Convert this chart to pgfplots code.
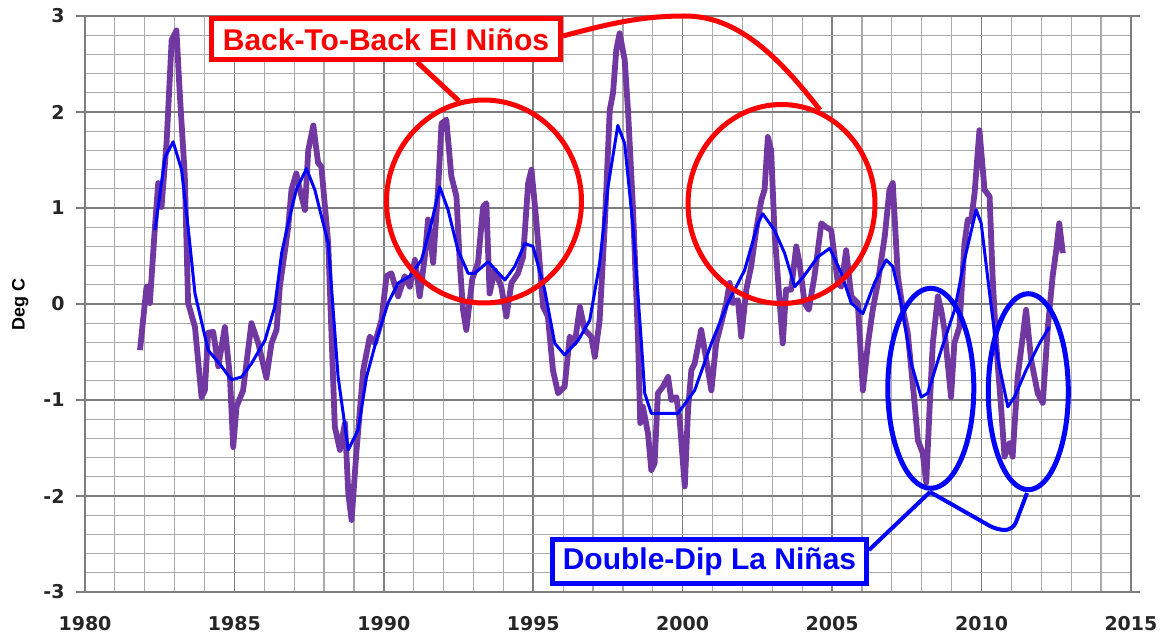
\documentclass[border=0pt]{standalone}
\usepackage{fontspec}
\setmainfont{Liberation Sans}
\newfontfamily\tickfont{DejaVu Sans}
\usepackage{pgfplots}
\pgfplotsset{compat=1.18}
\definecolor{enso}{RGB}{112,56,160}
\definecolor{gridmaj}{RGB}{125,125,125}
\definecolor{gridmin}{RGB}{170,170,170}
\begin{document}
\begin{tikzpicture}
\begin{axis}[
  at={(0pt,0pt)}, anchor=south west,
  scale only axis, width=1046pt, height=576pt,
  xmin=1980, xmax=2015, ymin=-3, ymax=3,
  xtick={1980,1985,...,2015},
  xticklabels={1980,1985,1990,1995,2000,2005,2010,2015},
  ytick={-3,-2,...,3},
  yticklabels={-3,-2,-1,0,1,2,3},
  minor x tick num=4, minor y tick num=4,
  grid=both,
  major grid style={gridmaj, line width=1.6pt},
  minor grid style={gridmin, line width=1.2pt},
  axis line style={gridmaj, line width=1.6pt},
  tick align=outside,
  major tick length=9pt, minor tick length=0pt,
  xtick style={draw=none},
  ytick style={gridmaj, line width=1.6pt},
  ticklabel style={font=\tickfont\bfseries\fontsize{19}{19}\selectfont, text=black!85},
  xticklabel style={yshift=-12pt},
  yticklabel style={xshift=-8pt},
  ylabel={Deg C},
  ylabel style={at={(axis description cs:-0.062,0.5)}, anchor=center, font=\bfseries\fontsize{18}{18}\selectfont},
]
\addplot[enso, line width=5.8pt, line join=round] coordinates {
(1981.84,-0.48) (1982.06,0.18) (1982.17,0.01) (1982.34,0.80) (1982.45,1.26) (1982.56,1.01)
(1982.73,1.68) (1982.90,2.75) (1983.06,2.85) (1983.17,2.20) (1983.34,1.33) (1983.45,0.01)
(1983.68,-0.24) (1983.90,-0.97) (1984.01,-0.90) (1984.12,-0.30) (1984.29,-0.29) (1984.46,-0.65)
(1984.68,-0.24) (1984.85,-0.76) (1984.96,-1.49) (1985.07,-1.07) (1985.29,-0.90) (1985.57,-0.20)
(1985.80,-0.41) (1986.07,-0.77) (1986.24,-0.41) (1986.41,-0.27) (1986.52,0.18) (1986.80,0.80)
(1986.91,1.19) (1987.07,1.36) (1987.19,1.19) (1987.36,0.98) (1987.47,1.60) (1987.64,1.86)
(1987.80,1.47) (1987.91,1.43) (1988.14,0.63) (1988.36,-1.28) (1988.53,-1.52) (1988.70,-1.24)
(1988.81,-1.97) (1988.92,-2.25) (1989.08,-1.55) (1989.31,-0.69) (1989.53,-0.34) (1989.70,-0.41)
(1989.92,-0.17) (1990.09,0.29) (1990.25,0.32) (1990.48,0.08) (1990.70,0.29) (1990.87,0.18)
(1991.04,0.46) (1991.20,0.08) (1991.37,0.49) (1991.48,0.88) (1991.65,0.43) (1991.82,1.22)
(1991.93,1.88) (1992.09,1.92) (1992.26,1.33) (1992.43,1.12) (1992.54,0.43) (1992.65,-0.06)
(1992.76,-0.27) (1992.96,0.26) (1993.15,0.43) (1993.32,1.01) (1993.43,1.05) (1993.54,0.11)
(1993.71,0.35) (1993.93,0.18) (1994.10,-0.13) (1994.27,0.22) (1994.49,0.32) (1994.66,0.49)
(1994.83,1.26) (1994.94,1.40) (1995.11,0.84) (1995.33,-0.03) (1995.49,-0.13) (1995.66,-0.69)
(1995.83,-0.93) (1996.05,-0.86) (1996.22,-0.34) (1996.39,-0.41) (1996.56,-0.03) (1996.72,-0.27)
(1996.94,-0.34) (1997.06,-0.55) (1997.22,-0.17) (1997.39,0.80) (1997.56,2.02) (1997.67,2.20)
(1997.78,2.65) (1997.89,2.82) (1998.06,2.54) (1998.17,2.02) (1998.34,0.98) (1998.51,-0.41)
(1998.58,-1.24) (1998.67,-1.07) (1998.84,-1.35) (1998.95,-1.73) (1999.06,-1.66) (1999.17,-0.93)
(1999.34,-0.86) (1999.51,-0.76) (1999.62,-1.00) (1999.79,-0.97) (1999.90,-1.21) (2000.07,-1.90)
(2000.18,-1.10) (2000.29,-0.69) (2000.40,-0.62) (2000.62,-0.27) (2000.79,-0.58) (2000.96,-0.90)
(2001.12,-0.41) (2001.29,-0.20) (2001.46,0.01) (2001.57,0.22) (2001.68,0.01) (2001.85,0.04)
(2001.96,-0.34) (2002.13,0.15) (2002.29,0.39) (2002.46,0.77) (2002.63,1.08) (2002.74,1.19)
(2002.85,1.74) (2002.96,1.60) (2003.07,0.77) (2003.24,0.04) (2003.35,-0.41) (2003.46,0.15)
(2003.63,0.15) (2003.80,0.60) (2003.91,0.43) (2004.08,0.01) (2004.22,-0.06) (2004.41,0.29)
(2004.64,0.84) (2004.80,0.80) (2004.97,0.77) (2005.19,0.22) (2005.31,0.18) (2005.47,0.56)
(2005.64,0.08) (2005.86,0.01) (2006.03,-0.90) (2006.20,-0.41) (2006.36,-0.06) (2006.53,0.22)
(2006.76,0.70) (2006.92,1.19) (2007.03,1.26) (2007.20,0.29) (2007.37,-0.06) (2007.53,-0.30)
(2007.76,-1.03) (2007.87,-1.42) (2008.03,-1.55) (2008.15,-1.86) (2008.26,-1.10) (2008.37,-0.41)
(2008.54,0.08) (2008.65,-0.06) (2008.76,-0.27) (2008.98,-0.97) (2009.09,-0.41) (2009.26,-0.24)
(2009.43,0.63) (2009.54,0.88) (2009.65,0.86) (2009.77,1.16) (2009.93,1.81) (2010.10,1.19)
(2010.27,1.12) (2010.37,0.29) (2010.49,-0.41) (2010.66,-1.10) (2010.77,-1.59) (2010.94,-1.45)
(2011.04,-1.59) (2011.21,-0.76) (2011.38,-0.34) (2011.49,-0.06) (2011.66,-0.58) (2011.88,-0.93)
(2012.05,-1.03) (2012.22,-0.24) (2012.38,0.29) (2012.50,0.56) (2012.60,0.84) (2012.72,0.53)
};
\addplot[blue, line width=3pt, line join=round] coordinates {
(1982.34,0.77) (1982.68,1.53) (1982.95,1.69) (1983.23,1.40) (1983.45,0.80) (1983.68,0.11)
(1984.12,-0.48) (1984.57,-0.65) (1984.90,-0.79) (1985.24,-0.76) (1985.57,-0.62) (1986.02,-0.38)
(1986.35,-0.03) (1986.58,0.53) (1986.80,0.84) (1987.07,1.19) (1987.41,1.41) (1987.69,1.19)
(1988.14,0.63) (1988.47,-0.76) (1988.81,-1.52) (1989.14,-1.31) (1989.42,-0.76) (1989.75,-0.38)
(1990.14,0.01) (1990.48,0.22) (1990.87,0.29) (1991.26,0.46) (1991.59,0.84) (1991.87,1.22)
(1992.15,0.98) (1992.48,0.56) (1992.82,0.32) (1993.04,0.32) (1993.49,0.44) (1994.05,0.25)
(1994.38,0.39) (1994.72,0.63) (1994.99,0.60) (1995.38,0.15) (1995.72,-0.41) (1996.05,-0.53)
(1996.50,-0.38) (1996.89,-0.17) (1997.22,0.42) (1997.50,1.22) (1997.83,1.86) (1998.06,1.67)
(1998.34,0.80) (1998.62,-0.41) (1998.73,-0.93) (1998.95,-1.14) (1999.51,-1.14) (1999.84,-1.14)
(2000.40,-0.90) (2000.96,-0.41) (2001.51,0.01) (2002.07,0.35) (2002.52,0.84) (2002.68,0.94)
(2003.07,0.77) (2003.41,0.53) (2003.75,0.18) (2004.08,0.30) (2004.52,0.49) (2004.92,0.58)
(2005.31,0.32) (2005.64,0.01) (2006.03,-0.10) (2006.42,0.22) (2006.81,0.46) (2007.03,0.39)
(2007.31,0.01) (2007.65,-0.62) (2007.98,-0.97) (2008.20,-0.93) (2008.65,-0.48) (2009.10,-0.06)
(2009.43,0.46) (2009.82,0.98) (2009.99,0.84) (2010.27,0.11) (2010.55,-0.58) (2010.88,-1.07)
(2011.10,-0.97) (2011.49,-0.69) (2011.94,-0.41) (2012.27,-0.24)
};
\end{axis}
% annotations (pt relative to axis south-west corner)
\draw[red, line width=5pt] (399pt,390.5pt) ellipse [x radius=97.5pt, y radius=101.5pt];
\draw[red, line width=5pt] (696.5pt,388pt) ellipse [x radius=93.5pt, y radius=99.5pt];
\draw[red, line width=5pt] (332pt,530pt) -- (374pt,491pt);
\draw[red, line width=5pt] (478pt,556pt) .. controls (530pt,570pt) and (560pt,576pt) .. (600pt,576pt)
  .. controls (650pt,576pt) and (690pt,540pt) .. (735pt,482pt);
\node[draw=red, line width=5pt, fill=white, text=red, inner sep=0pt,
  font=\bfseries\fontsize{30}{30}\selectfont, minimum width=349pt, minimum height=41pt]
  at (301pt,552.5pt) {Back-To-Back El Niños};
\draw[blue, line width=5pt] (845.8pt,203.7pt) ellipse [x radius=43pt, y radius=100pt];
\draw[blue, line width=5pt] (943.3pt,200.3pt) ellipse [x radius=40pt, y radius=98pt];
\draw[blue, line width=4pt] (784pt,42pt) -- (845pt,100pt);
\draw[blue, line width=4pt, rounded corners=8pt] (845pt,100pt) -- (912pt,62pt) -- (928pt,62pt) -- (942pt,99pt);
\node[draw=blue, line width=5pt, fill=white, text=blue, inner sep=0pt,
  font=\bfseries\fontsize{30}{30}\selectfont, minimum width=314pt, minimum height=44pt]
  at (624.5pt,30.5pt) {Double-Dip La Niñas};
\pgfresetboundingbox
\path (-85pt,-49pt) rectangle (1080pt,592pt);
\end{tikzpicture}
\end{document}
